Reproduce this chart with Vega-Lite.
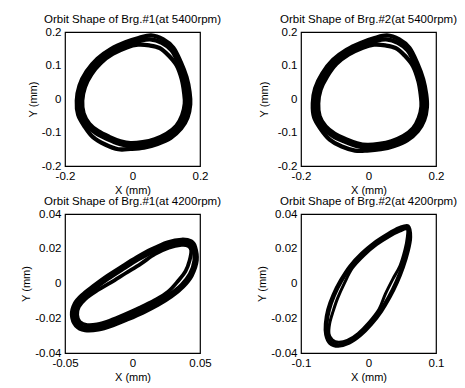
{
"$schema": "https://vega.github.io/schema/vega-lite/v6.json",
"background": "white",
"padding": {"left": 20, "top": 12, "right": 5, "bottom": 5},
"columns": 2,
"bounds": "flush",
"spacing": {"row": 48, "column": 101},
"config": {
 "font": "Liberation Sans",
 "view": {"stroke": "black", "strokeWidth": 1.2},
 "axis": {"grid": false, "domain": false, "ticks": false, "labelFont": "Liberation Sans", "labelFontSize": 11.5, "labelColor": "black", "labelFlush": false, "labelOverlap": false, "labelPadding": 4, "titleFont": "Liberation Sans", "titleFontSize": 11, "titleFontWeight": "normal", "titleColor": "black", "titlePadding": 3, "labelExpr": "'' + datum.value"},
 "title": {"fontSize": 11.5, "fontWeight": "normal", "color": "black", "offset": 1, "font": "Liberation Sans", "anchor": "middle", "frame": "group"},
 "line": {"color": "black", "interpolate": "cardinal-closed"}
},
"datasets": {
"p1": [
{"l":"A","i":1,"x":0.055,"y":0.190},{"l":"A","i":2,"x":0.091,"y":0.178},{"l":"A","i":3,"x":0.121,"y":0.153},{"l":"A","i":4,"x":0.143,"y":0.110},{"l":"A","i":5,"x":0.160,"y":0.065},{"l":"A","i":6,"x":0.169,"y":0.021},{"l":"A","i":7,"x":0.171,"y":-0.016},{"l":"A","i":8,"x":0.163,"y":-0.055},{"l":"A","i":9,"x":0.144,"y":-0.088},{"l":"A","i":10,"x":0.113,"y":-0.116},{"l":"A","i":11,"x":0.074,"y":-0.134},{"l":"A","i":12,"x":0.034,"y":-0.145},{"l":"A","i":13,"x":-0.006,"y":-0.149},{"l":"A","i":14,"x":-0.042,"y":-0.150},{"l":"A","i":15,"x":-0.081,"y":-0.136},{"l":"A","i":16,"x":-0.117,"y":-0.114},{"l":"A","i":17,"x":-0.142,"y":-0.082},{"l":"A","i":18,"x":-0.161,"y":-0.047},{"l":"A","i":19,"x":-0.165,"y":-0.005},{"l":"A","i":20,"x":-0.157,"y":0.040},{"l":"A","i":21,"x":-0.136,"y":0.082},{"l":"A","i":22,"x":-0.104,"y":0.120},{"l":"A","i":23,"x":-0.064,"y":0.149},{"l":"A","i":24,"x":-0.019,"y":0.170},{"l":"A","i":25,"x":0.018,"y":0.182},
{"l":"B","i":1,"x":0.052,"y":0.178},{"l":"B","i":2,"x":0.087,"y":0.168},{"l":"B","i":3,"x":0.116,"y":0.145},{"l":"B","i":4,"x":0.137,"y":0.105},{"l":"B","i":5,"x":0.153,"y":0.062},{"l":"B","i":6,"x":0.161,"y":0.020},{"l":"B","i":7,"x":0.163,"y":-0.015},{"l":"B","i":8,"x":0.155,"y":-0.052},{"l":"B","i":9,"x":0.137,"y":-0.084},{"l":"B","i":10,"x":0.107,"y":-0.110},{"l":"B","i":11,"x":0.070,"y":-0.127},{"l":"B","i":12,"x":0.032,"y":-0.137},{"l":"B","i":13,"x":-0.006,"y":-0.140},{"l":"B","i":14,"x":-0.038,"y":-0.134},{"l":"B","i":15,"x":-0.073,"y":-0.120},{"l":"B","i":16,"x":-0.108,"y":-0.102},{"l":"B","i":17,"x":-0.135,"y":-0.078},{"l":"B","i":18,"x":-0.153,"y":-0.045},{"l":"B","i":19,"x":-0.157,"y":-0.005},{"l":"B","i":20,"x":-0.149,"y":0.038},{"l":"B","i":21,"x":-0.129,"y":0.078},{"l":"B","i":22,"x":-0.099,"y":0.114},{"l":"B","i":23,"x":-0.061,"y":0.142},{"l":"B","i":24,"x":-0.018,"y":0.162},{"l":"B","i":25,"x":0.017,"y":0.172},
{"l":"C","i":1,"x":0.050,"y":0.160},{"l":"C","i":2,"x":0.081,"y":0.152},{"l":"C","i":3,"x":0.107,"y":0.130},{"l":"C","i":4,"x":0.131,"y":0.100},{"l":"C","i":5,"x":0.146,"y":0.059},{"l":"C","i":6,"x":0.153,"y":0.019},{"l":"C","i":7,"x":0.155,"y":-0.014},{"l":"C","i":8,"x":0.147,"y":-0.049},{"l":"C","i":9,"x":0.130,"y":-0.080},{"l":"C","i":10,"x":0.101,"y":-0.104},{"l":"C","i":11,"x":0.066,"y":-0.120},{"l":"C","i":12,"x":0.030,"y":-0.129},{"l":"C","i":13,"x":-0.006,"y":-0.132},{"l":"C","i":14,"x":-0.036,"y":-0.126},{"l":"C","i":15,"x":-0.069,"y":-0.113},{"l":"C","i":16,"x":-0.102,"y":-0.096},{"l":"C","i":17,"x":-0.128,"y":-0.074},{"l":"C","i":18,"x":-0.145,"y":-0.043},{"l":"C","i":19,"x":-0.149,"y":-0.005},{"l":"C","i":20,"x":-0.141,"y":0.036},{"l":"C","i":21,"x":-0.122,"y":0.074},{"l":"C","i":22,"x":-0.094,"y":0.108},{"l":"C","i":23,"x":-0.058,"y":0.135},{"l":"C","i":24,"x":-0.017,"y":0.154},{"l":"C","i":25,"x":0.016,"y":0.162}
],
"p2": [
{"l":"A","i":1,"x":0.055,"y":0.190},{"l":"A","i":2,"x":0.091,"y":0.178},{"l":"A","i":3,"x":0.121,"y":0.153},{"l":"A","i":4,"x":0.144,"y":0.108},{"l":"A","i":5,"x":0.162,"y":0.059},{"l":"A","i":6,"x":0.171,"y":0.013},{"l":"A","i":7,"x":0.173,"y":-0.024},{"l":"A","i":8,"x":0.165,"y":-0.063},{"l":"A","i":9,"x":0.146,"y":-0.096},{"l":"A","i":10,"x":0.115,"y":-0.123},{"l":"A","i":11,"x":0.076,"y":-0.140},{"l":"A","i":12,"x":0.036,"y":-0.150},{"l":"A","i":13,"x":-0.004,"y":-0.154},{"l":"A","i":14,"x":-0.040,"y":-0.154},{"l":"A","i":15,"x":-0.079,"y":-0.142},{"l":"A","i":16,"x":-0.115,"y":-0.121},{"l":"A","i":17,"x":-0.141,"y":-0.090},{"l":"A","i":18,"x":-0.161,"y":-0.055},{"l":"A","i":19,"x":-0.165,"y":-0.013},{"l":"A","i":20,"x":-0.158,"y":0.032},{"l":"A","i":21,"x":-0.137,"y":0.076},{"l":"A","i":22,"x":-0.105,"y":0.117},{"l":"A","i":23,"x":-0.065,"y":0.147},{"l":"A","i":24,"x":-0.019,"y":0.169},{"l":"A","i":25,"x":0.018,"y":0.182},
{"l":"B","i":1,"x":0.052,"y":0.178},{"l":"B","i":2,"x":0.087,"y":0.168},{"l":"B","i":3,"x":0.116,"y":0.145},{"l":"B","i":4,"x":0.138,"y":0.103},{"l":"B","i":5,"x":0.155,"y":0.056},{"l":"B","i":6,"x":0.163,"y":0.012},{"l":"B","i":7,"x":0.165,"y":-0.023},{"l":"B","i":8,"x":0.157,"y":-0.060},{"l":"B","i":9,"x":0.139,"y":-0.092},{"l":"B","i":10,"x":0.109,"y":-0.117},{"l":"B","i":11,"x":0.072,"y":-0.133},{"l":"B","i":12,"x":0.034,"y":-0.142},{"l":"B","i":13,"x":-0.004,"y":-0.145},{"l":"B","i":14,"x":-0.036,"y":-0.140},{"l":"B","i":15,"x":-0.071,"y":-0.127},{"l":"B","i":16,"x":-0.106,"y":-0.110},{"l":"B","i":17,"x":-0.134,"y":-0.086},{"l":"B","i":18,"x":-0.153,"y":-0.053},{"l":"B","i":19,"x":-0.157,"y":-0.013},{"l":"B","i":20,"x":-0.150,"y":0.030},{"l":"B","i":21,"x":-0.130,"y":0.071},{"l":"B","i":22,"x":-0.100,"y":0.110},{"l":"B","i":23,"x":-0.062,"y":0.140},{"l":"B","i":24,"x":-0.018,"y":0.161},{"l":"B","i":25,"x":0.017,"y":0.172},
{"l":"C","i":1,"x":0.050,"y":0.160},{"l":"C","i":2,"x":0.081,"y":0.152},{"l":"C","i":3,"x":0.107,"y":0.130},{"l":"C","i":4,"x":0.132,"y":0.098},{"l":"C","i":5,"x":0.148,"y":0.053},{"l":"C","i":6,"x":0.155,"y":0.011},{"l":"C","i":7,"x":0.157,"y":-0.022},{"l":"C","i":8,"x":0.149,"y":-0.057},{"l":"C","i":9,"x":0.132,"y":-0.088},{"l":"C","i":10,"x":0.103,"y":-0.111},{"l":"C","i":11,"x":0.068,"y":-0.126},{"l":"C","i":12,"x":0.032,"y":-0.134},{"l":"C","i":13,"x":-0.004,"y":-0.137},{"l":"C","i":14,"x":-0.034,"y":-0.132},{"l":"C","i":15,"x":-0.067,"y":-0.120},{"l":"C","i":16,"x":-0.100,"y":-0.104},{"l":"C","i":17,"x":-0.127,"y":-0.082},{"l":"C","i":18,"x":-0.145,"y":-0.051},{"l":"C","i":19,"x":-0.149,"y":-0.013},{"l":"C","i":20,"x":-0.142,"y":0.028},{"l":"C","i":21,"x":-0.123,"y":0.067},{"l":"C","i":22,"x":-0.095,"y":0.105},{"l":"C","i":23,"x":-0.059,"y":0.133},{"l":"C","i":24,"x":-0.017,"y":0.153},{"l":"C","i":25,"x":0.016,"y":0.162}
],
"p3": [
{"l":"A","i":1,"x":0.0465,"y":0.0210},{"l":"A","i":2,"x":0.0477,"y":0.0133},{"l":"A","i":3,"x":0.0440,"y":0.0046},{"l":"A","i":4,"x":0.0376,"y":-0.0018},{"l":"A","i":5,"x":0.0289,"y":-0.0075},{"l":"A","i":6,"x":0.0190,"y":-0.0123},{"l":"A","i":7,"x":0.0078,"y":-0.0168},{"l":"A","i":8,"x":-0.0033,"y":-0.0206},{"l":"A","i":9,"x":-0.0145,"y":-0.0241},{"l":"A","i":10,"x":-0.0252,"y":-0.0266},{"l":"A","i":11,"x":-0.0351,"y":-0.0270},{"l":"A","i":12,"x":-0.0420,"y":-0.0243},{"l":"A","i":13,"x":-0.0450,"y":-0.0181},{"l":"A","i":14,"x":-0.0428,"y":-0.0115},{"l":"A","i":15,"x":-0.0373,"y":-0.0065},{"l":"A","i":16,"x":-0.0294,"y":-0.0016},{"l":"A","i":17,"x":-0.0195,"y":0.0040},{"l":"A","i":18,"x":-0.0083,"y":0.0096},{"l":"A","i":19,"x":0.0029,"y":0.0150},{"l":"A","i":20,"x":0.0140,"y":0.0197},{"l":"A","i":21,"x":0.0259,"y":0.0237},{"l":"A","i":22,"x":0.0363,"y":0.0253},{"l":"A","i":23,"x":0.0435,"y":0.0243},
{"l":"B","i":1,"x":0.0450,"y":0.0200},{"l":"B","i":2,"x":0.0458,"y":0.0133},{"l":"B","i":3,"x":0.0425,"y":0.0055},{"l":"B","i":4,"x":0.0363,"y":-0.0007},{"l":"B","i":5,"x":0.0277,"y":-0.0061},{"l":"B","i":6,"x":0.0177,"y":-0.0109},{"l":"B","i":7,"x":0.0066,"y":-0.0154},{"l":"B","i":8,"x":-0.0046,"y":-0.0193},{"l":"B","i":9,"x":-0.0157,"y":-0.0228},{"l":"B","i":10,"x":-0.0257,"y":-0.0251},{"l":"B","i":11,"x":-0.0343,"y":-0.0255},{"l":"B","i":12,"x":-0.0405,"y":-0.0231},{"l":"B","i":13,"x":-0.0430,"y":-0.0181},{"l":"B","i":14,"x":-0.0413,"y":-0.0125},{"l":"B","i":15,"x":-0.0361,"y":-0.0077},{"l":"B","i":16,"x":-0.0281,"y":-0.0030},{"l":"B","i":17,"x":-0.0182,"y":0.0026},{"l":"B","i":18,"x":-0.0071,"y":0.0082},{"l":"B","i":19,"x":0.0041,"y":0.0137},{"l":"B","i":20,"x":0.0153,"y":0.0183},{"l":"B","i":21,"x":0.0264,"y":0.0222},{"l":"B","i":22,"x":0.0363,"y":0.0237},{"l":"B","i":23,"x":0.0425,"y":0.0230},
{"l":"C","i":1,"x":0.0435,"y":0.0191},{"l":"C","i":2,"x":0.0423,"y":0.0133},{"l":"C","i":3,"x":0.0393,"y":0.0071},{"l":"C","i":4,"x":0.0339,"y":0.0016},{"l":"C","i":5,"x":0.0264,"y":-0.0047},{"l":"C","i":6,"x":0.0165,"y":-0.0096},{"l":"C","i":7,"x":0.0053,"y":-0.0140},{"l":"C","i":8,"x":-0.0058,"y":-0.0179},{"l":"C","i":9,"x":-0.0170,"y":-0.0214},{"l":"C","i":10,"x":-0.0262,"y":-0.0235},{"l":"C","i":11,"x":-0.0336,"y":-0.0239},{"l":"C","i":12,"x":-0.0391,"y":-0.0220},{"l":"C","i":13,"x":-0.0410,"y":-0.0181},{"l":"C","i":14,"x":-0.0398,"y":-0.0135},{"l":"C","i":15,"x":-0.0348,"y":-0.0088},{"l":"C","i":16,"x":-0.0269,"y":-0.0044},{"l":"C","i":17,"x":-0.0162,"y":0.0005},{"l":"C","i":18,"x":-0.0051,"y":0.0059},{"l":"C","i":19,"x":0.0061,"y":0.0113},{"l":"C","i":20,"x":0.0165,"y":0.0169},{"l":"C","i":21,"x":0.0269,"y":0.0206},{"l":"C","i":22,"x":0.0363,"y":0.0222},{"l":"C","i":23,"x":0.0415,"y":0.0216}
],
"p4": [
{"l":"A","i":1,"x":0.0590,"y":0.0332},{"l":"A","i":2,"x":0.0625,"y":0.0268},{"l":"A","i":3,"x":0.0590,"y":0.0187},{"l":"A","i":4,"x":0.0516,"y":0.0092},{"l":"A","i":5,"x":0.0427,"y":0.0005},{"l":"A","i":6,"x":0.0319,"y":-0.0080},{"l":"A","i":7,"x":0.0195,"y":-0.0160},{"l":"A","i":8,"x":0.0047,"y":-0.0235},{"l":"A","i":9,"x":-0.0116,"y":-0.0299},{"l":"A","i":10,"x":-0.0284,"y":-0.0344},{"l":"A","i":11,"x":-0.0447,"y":-0.0361},{"l":"A","i":12,"x":-0.0576,"y":-0.0344},{"l":"A","i":13,"x":-0.0635,"y":-0.0295},{"l":"A","i":14,"x":-0.0640,"y":-0.0231},{"l":"A","i":15,"x":-0.0605,"y":-0.0150},{"l":"A","i":16,"x":-0.0526,"y":-0.0065},{"l":"A","i":17,"x":-0.0417,"y":0.0018},{"l":"A","i":18,"x":-0.0279,"y":0.0100},{"l":"A","i":19,"x":-0.0106,"y":0.0173},{"l":"A","i":20,"x":0.0082,"y":0.0235},{"l":"A","i":21,"x":0.0284,"y":0.0286},{"l":"A","i":22,"x":0.0452,"y":0.0321},
{"l":"B","i":1,"x":0.0580,"y":0.0323},{"l":"B","i":2,"x":0.0600,"y":0.0268},{"l":"B","i":3,"x":0.0566,"y":0.0191},{"l":"B","i":4,"x":0.0496,"y":0.0098},{"l":"B","i":5,"x":0.0408,"y":0.0011},{"l":"B","i":6,"x":0.0299,"y":-0.0075},{"l":"B","i":7,"x":0.0175,"y":-0.0154},{"l":"B","i":8,"x":0.0027,"y":-0.0230},{"l":"B","i":9,"x":-0.0136,"y":-0.0293},{"l":"B","i":10,"x":-0.0299,"y":-0.0336},{"l":"B","i":11,"x":-0.0447,"y":-0.0352},{"l":"B","i":12,"x":-0.0556,"y":-0.0336},{"l":"B","i":13,"x":-0.0610,"y":-0.0293},{"l":"B","i":14,"x":-0.0615,"y":-0.0231},{"l":"B","i":15,"x":-0.0580,"y":-0.0154},{"l":"B","i":16,"x":-0.0506,"y":-0.0071},{"l":"B","i":17,"x":-0.0398,"y":0.0013},{"l":"B","i":18,"x":-0.0259,"y":0.0094},{"l":"B","i":19,"x":-0.0086,"y":0.0168},{"l":"B","i":20,"x":0.0101,"y":0.0230},{"l":"B","i":21,"x":0.0294,"y":0.0278},{"l":"B","i":22,"x":0.0457,"y":0.0311},
{"l":"C","i":1,"x":0.0571,"y":0.0313},{"l":"C","i":2,"x":0.0576,"y":0.0268},{"l":"C","i":3,"x":0.0541,"y":0.0195},{"l":"C","i":4,"x":0.0467,"y":0.0102},{"l":"C","i":5,"x":0.0358,"y":0.0024},{"l":"C","i":6,"x":0.0249,"y":-0.0061},{"l":"C","i":7,"x":0.0156,"y":-0.0148},{"l":"C","i":8,"x":0.0007,"y":-0.0224},{"l":"C","i":9,"x":-0.0156,"y":-0.0288},{"l":"C","i":10,"x":-0.0314,"y":-0.0328},{"l":"C","i":11,"x":-0.0447,"y":-0.0338},{"l":"C","i":12,"x":-0.0536,"y":-0.0324},{"l":"C","i":13,"x":-0.0585,"y":-0.0290},{"l":"C","i":14,"x":-0.0576,"y":-0.0231},{"l":"C","i":15,"x":-0.0526,"y":-0.0162},{"l":"C","i":16,"x":-0.0457,"y":-0.0084},{"l":"C","i":17,"x":-0.0358,"y":0.0001},{"l":"C","i":18,"x":-0.0240,"y":0.0088},{"l":"C","i":19,"x":-0.0067,"y":0.0162},{"l":"C","i":20,"x":0.0121,"y":0.0224},{"l":"C","i":21,"x":0.0304,"y":0.0270},{"l":"C","i":22,"x":0.0462,"y":0.0301}
]
},
"concat": [
{
 "title": "Orbit Shape of Brg.#1(at 5400rpm)",
 "width": 135, "height": 134,
 "data": {"name": "p1"},
 "mark": {"type": "line", "strokeWidth": 4.3},
 "encoding": {
  "x": {"field": "x", "type": "quantitative", "scale": {"domain": [-0.2, 0.2], "nice": false, "zero": false}, "axis": {"values": [-0.2, 0, 0.2], "title": "X (mm)"}},
  "y": {"field": "y", "type": "quantitative", "scale": {"domain": [-0.2, 0.2], "nice": false, "zero": false}, "axis": {"values": [-0.2, -0.1, 0, 0.1, 0.2], "title": "Y (mm)"}},
  "detail": {"field": "l"},
  "order": {"field": "i", "type": "quantitative"}
 }
},
{
 "title": "Orbit Shape of Brg.#2(at 5400rpm)",
 "width": 135, "height": 134,
 "data": {"name": "p2"},
 "mark": {"type": "line", "strokeWidth": 4.3},
 "encoding": {
  "x": {"field": "x", "type": "quantitative", "scale": {"domain": [-0.2, 0.2], "nice": false, "zero": false}, "axis": {"values": [-0.2, 0, 0.2], "title": "X (mm)"}},
  "y": {"field": "y", "type": "quantitative", "scale": {"domain": [-0.2, 0.2], "nice": false, "zero": false}, "axis": {"values": [-0.2, -0.1, 0, 0.1, 0.2], "title": "Y (mm)", "titlePadding": 8}},
  "detail": {"field": "l"},
  "order": {"field": "i", "type": "quantitative"}
 }
},
{
 "title": "Orbit Shape of Brg.#1(at 4200rpm)",
 "width": 135, "height": 139,
 "data": {"name": "p3"},
 "mark": {"type": "line", "strokeWidth": 3.8},
 "encoding": {
  "x": {"field": "x", "type": "quantitative", "scale": {"domain": [-0.05, 0.05], "nice": false, "zero": false}, "axis": {"values": [-0.05, 0, 0.05], "title": "X (mm)"}},
  "y": {"field": "y", "type": "quantitative", "scale": {"domain": [-0.04, 0.04], "nice": false, "zero": false}, "axis": {"values": [-0.04, -0.02, 0, 0.02, 0.04], "title": "Y (mm)"}},
  "detail": {"field": "l"},
  "order": {"field": "i", "type": "quantitative"}
 }
},
{
 "title": "Orbit Shape of Brg.#2(at 4200rpm)",
 "width": 135, "height": 139,
 "data": {"name": "p4"},
 "mark": {"type": "line", "strokeWidth": 3},
 "encoding": {
  "x": {"field": "x", "type": "quantitative", "scale": {"domain": [-0.1, 0.1], "nice": false, "zero": false}, "axis": {"values": [-0.1, 0, 0.1], "title": "X (mm)"}},
  "y": {"field": "y", "type": "quantitative", "scale": {"domain": [-0.04, 0.04], "nice": false, "zero": false}, "axis": {"values": [-0.04, -0.02, 0, 0.02, 0.04], "title": "Y (mm)"}},
  "detail": {"field": "l"},
  "order": {"field": "i", "type": "quantitative"}
 }
}
]
}
